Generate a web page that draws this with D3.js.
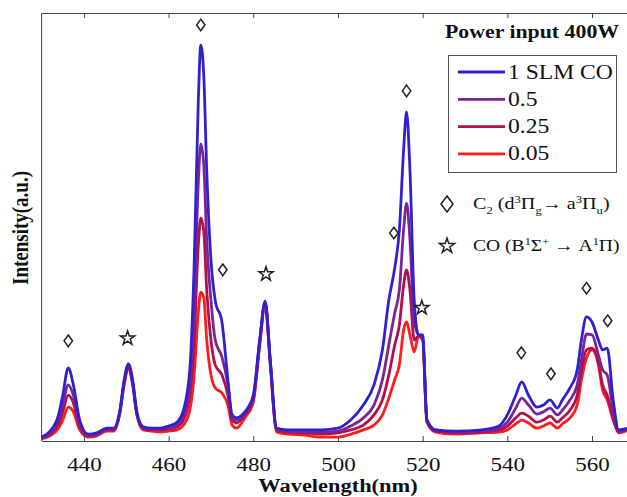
<!DOCTYPE html>
<html>
<head>
<meta charset="utf-8">
<script src="https://cdn.jsdelivr.net/npm/d3@7"></script>
<style>
body{margin:0;background:#fff}
text{font-family:"Liberation Serif","Times New Roman",serif;fill:#111}
</style>
</head>
<body>
<div id="chart"></div>
<script>
// wavelength grid (nm) shared by the four spectra
var wavelength = [430,432,434,435,436.3,437.5,439,441,443,445.4,
	447,448.5,449.5,450.5,451.5,452.5,454,456,458,460,
	462,463.5,465,466,467,467.6,468.3,469,470,471,
	472.6,474,475,476,478,480,481.5,482.8,484,485.5,
	488,492,496,500,503,506,508.5,510.5,512,513.4,
	514.5,515.5,516.2,517,518,519,520,521,523,528,
	534,538,540,542,543.4,545,547,548.5,550.1,551.8,
	553,554.8,556.5,557.5,558.7,560,561.5,562.5,563.6,565,
	566.3,568.5]

var slm1 = [0.9,2.3,6.1,10.7,17.1,13.1,4.9,1.6,1.9,3.0,
	3.0,7.2,14.3,18.0,14.3,6.8,3.3,3.0,3.0,3.5,
	4.4,7.2,16.6,40.0,79.0,92.5,85.5,63.3,42.3,32.9,
	27.8,14.3,6.1,5.4,6.8,10.7,23.6,32.7,18.9,3.0,
	2.6,2.6,2.6,3.0,4.9,8.4,13.1,21.3,32.9,40.4,
	49.3,68.0,76.9,63.3,32.9,24.8,24.8,4.9,2.6,2.3,
	2.6,3.5,6.1,10.7,13.8,10.7,7.9,8.4,9.6,7.7,
	9.6,12.4,16.6,23.6,29.0,27.8,23.6,21.3,21.7,9.6,
	2.6,3.0]

var slm05 = [0.7,1.9,4.9,8.4,13.1,10.7,4.0,1.4,1.6,2.8,
	2.8,7.0,13.8,17.5,13.8,6.5,3.0,2.8,2.8,3.0,
	3.7,6.1,13.1,30.0,60.0,69.4,64.5,47.0,32.9,23.6,
	19.6,13.1,5.4,4.9,6.5,10.3,23.1,32.5,18.9,2.8,
	2.3,2.1,2.1,2.3,3.5,5.4,8.4,14.3,22.4,29.9,
	35.3,49.3,55.6,47.0,28.3,24.8,24.5,4.9,2.6,2.1,
	2.3,3.0,4.4,7.7,10.0,8.4,6.3,6.8,7.7,6.1,
	7.2,9.6,13.1,18.9,25.0,24.8,20.1,16.6,15.4,7.2,
	2.3,2.8]

var slm025 = [0.7,1.6,4.0,6.8,10.7,8.9,3.3,1.2,1.4,2.6,
	2.6,6.8,13.6,17.3,13.6,6.3,2.8,2.6,2.6,2.8,
	3.3,4.9,10.7,22.5,45.5,52.1,49.0,35.3,23.6,17.8,
	15.4,10.7,4.9,4.2,6.1,9.8,22.7,32.2,18.5,2.6,
	2.1,1.9,1.6,1.9,2.6,3.7,6.1,9.6,15.4,22.4,
	27.1,36.4,40.0,35.3,23.6,24.5,24.0,4.7,2.3,1.9,
	2.1,2.6,3.5,5.4,6.5,5.8,4.4,4.9,5.8,4.4,
	5.4,7.2,10.7,16.6,21.3,21.7,18.5,13.1,10.7,5.4,
	2.1,2.8]

var slm005 = [0.5,1.2,3.0,4.9,7.9,6.8,2.6,0.9,1.2,2.3,
	2.3,6.5,13.1,16.8,13.1,6.1,2.6,2.3,2.1,2.3,
	2.6,3.7,7.2,15.0,30.0,34.8,33.5,23.6,15.4,12.4,
	11.2,8.4,3.7,3.0,5.4,9.1,22.2,31.8,17.8,2.1,
	1.6,1.4,0.9,0.9,1.6,2.6,3.7,6.1,10.0,14.3,
	17.8,25.9,27.8,24.8,20.8,24.5,23.5,4.4,2.1,1.6,
	1.9,2.1,2.6,4.0,4.9,4.2,3.0,3.5,4.2,3.0,
	4.0,5.4,8.4,14.3,19.4,21.3,17.8,11.9,9.6,4.9,
	1.9,2.6]

var seriesNames = ["1 SLM CO","0.5","0.25","0.05"]
var seriesColors = ["#3020d0","#7a2496","#b1104b","#ff1c1c"]
var xTicks = [440,460,480,500,520,540,560]

// band head markers: [wavelength, intensity]
var c2Peaks = [[436.3,23.4],[467.6,97.2],[472.8,40.0],[513.2,48.6],[516.2,81.8],
	[543.3,20.6],[550.3,15.7],[558.7,35.7],[563.7,28.1]]
var coPeaks = [[450.3,24.0],[483.0,39.0],[519.8,31.1]]

var width = 627, height = 497
var stretch = "scale(1.18,1)"

var svg = d3.select("#chart").append("svg").attr("width",width).attr("height",height)

var x = d3.scaleLinear().domain([430,568.5]).range([41.6,628])
var y = d3.scaleLinear().domain([0,100]).range([441,13])

svg.append("clipPath").attr("id","plotclip").append("rect")
	.attr("x",x(430)).attr("y",y(100)).attr("width",x(568.5)-x(430)).attr("height",y(0)-y(100))

var all = [slm1,slm05,slm025,slm005]
var line = d3.line()
	.x(function(d,i){return x(wavelength[i])})
	.y(function(d){return y(d)})
	.curve(d3.curveMonotoneX)

var plot = svg.append("g").attr("clip-path","url(#plotclip)")
// draw red first so the blue curve ends up on top
for (var k = all.length-1; k >= 0; k--) {
	plot.append("path").datum(all[k])
		.attr("d",line)
		.attr("fill","none")
		.attr("stroke",seriesColors[k])
		.attr("stroke-width",2.8)
		.attr("stroke-linejoin","round")
}

// axes
var bottom = svg.append("g").attr("transform","translate(0,"+y(0)+")")
	.call(d3.axisBottom(x).tickValues(xTicks).tickSize(-5).tickSizeOuter(0).tickPadding(16).tickFormat(d3.format("d")))
bottom.selectAll("text").attr("transform",stretch).style("font-size","19.5px").style("fill","#111")
var top = svg.append("g").attr("transform","translate(0,"+y(100)+")")
	.call(d3.axisTop(x).tickValues(xTicks).tickSize(-5).tickSizeOuter(0).tickFormat(""))
svg.selectAll(".domain, .tick line").attr("stroke","#444")
svg.append("line").attr("x1",x(430)).attr("x2",x(430)).attr("y1",y(100)).attr("y2",y(0))
	.attr("stroke","#444")

svg.append("text").text("Wavelength(nm)")
	.attr("transform","translate(338,492) "+stretch)
	.attr("text-anchor","middle").style("font-weight","bold").style("font-size","19px")
svg.append("text").text("Intensity(a.u.)")
	.attr("transform","translate(28,228) "+stretch+" rotate(-90)")
	.attr("text-anchor","middle").style("font-weight","bold").style("font-size","19px")

// markers
function diamond(w,h){return "M0,"+(-h)+"L"+w+",0L0,"+h+"L"+(-w)+",0Z"}
svg.selectAll("path.c2").data(c2Peaks).enter().append("path")
	.attr("class","c2")
	.attr("d",diamond(4.2,5.8))
	.attr("transform",function(d){return "translate("+x(d[0])+","+y(d[1])+")"})
	.attr("fill","none").attr("stroke","#222").attr("stroke-width",1.5)
var star = d3.symbol().type(d3.symbolStar).size(62)
svg.selectAll("path.co").data(coPeaks).enter().append("path")
	.attr("class","co")
	.attr("d",star())
	.attr("transform",function(d){return "translate("+x(d[0])+","+y(d[1])+")"})
	.attr("fill","none").attr("stroke","#222").attr("stroke-width",1.5)

// title + legend
svg.append("text").text("Power input 400W")
	.attr("transform","translate(445,38) "+stretch)
	.style("font-weight","bold").style("font-size","18.5px")
svg.append("rect").attr("x",448.5).attr("y",55.5).attr("width",168).attr("height",117)
	.attr("fill","#fff").attr("stroke","#555").attr("stroke-width",1)
seriesNames.forEach(function(name,i){
	var ly = 72 + i*27.3
	svg.append("line").attr("x1",458).attr("x2",505).attr("y1",ly).attr("y2",ly)
		.attr("stroke",seriesColors[i]).attr("stroke-width",2.8)
	svg.append("text").text(name)
		.attr("transform","translate(508,"+(ly+6.5)+") "+stretch)
		.style("font-size","20px")
})

svg.append("path").attr("d",diamond(6,8))
	.attr("transform","translate(447,204)")
	.attr("fill","none").attr("stroke","#222").attr("stroke-width",1.6)
svg.append("path").attr("d",d3.symbol().type(d3.symbolStar).size(70)())
	.attr("transform","translate(447,246)")
	.attr("fill","none").attr("stroke","#222").attr("stroke-width",1.5)

var t1 = svg.append("text").attr("transform","translate(473,209) scale(1.15,1)").style("font-size","17.5px")
t1.append("tspan").text("C")
t1.append("tspan").text("2").attr("dy",5).style("font-size","11px")
t1.append("tspan").text(" (d").attr("dy",-5)
t1.append("tspan").text("3").attr("dy",-6).style("font-size","11px")
t1.append("tspan").text("Π").attr("dy",6)
t1.append("tspan").text("g").attr("dy",5).style("font-size","11px")
t1.append("tspan").text("→ a").attr("dy",-5)
t1.append("tspan").text("3").attr("dy",-6).style("font-size","11px")
t1.append("tspan").text("Π").attr("dy",6)
t1.append("tspan").text("u").attr("dy",5).style("font-size","11px")
t1.append("tspan").text(")").attr("dy",-5)

var t2 = svg.append("text").attr("transform","translate(473,251) scale(1.12,1)").style("font-size","17.5px")
t2.append("tspan").text("CO (B")
t2.append("tspan").text("1").attr("dy",-6).style("font-size","11px")
t2.append("tspan").text("Σ").attr("dy",6)
t2.append("tspan").text("+").attr("dy",-6).style("font-size","11px")
t2.append("tspan").text(" → A").attr("dy",6)
t2.append("tspan").text("1").attr("dy",-6).style("font-size","11px")
t2.append("tspan").text("Π)").attr("dy",6)
</script>
</body>
</html>
